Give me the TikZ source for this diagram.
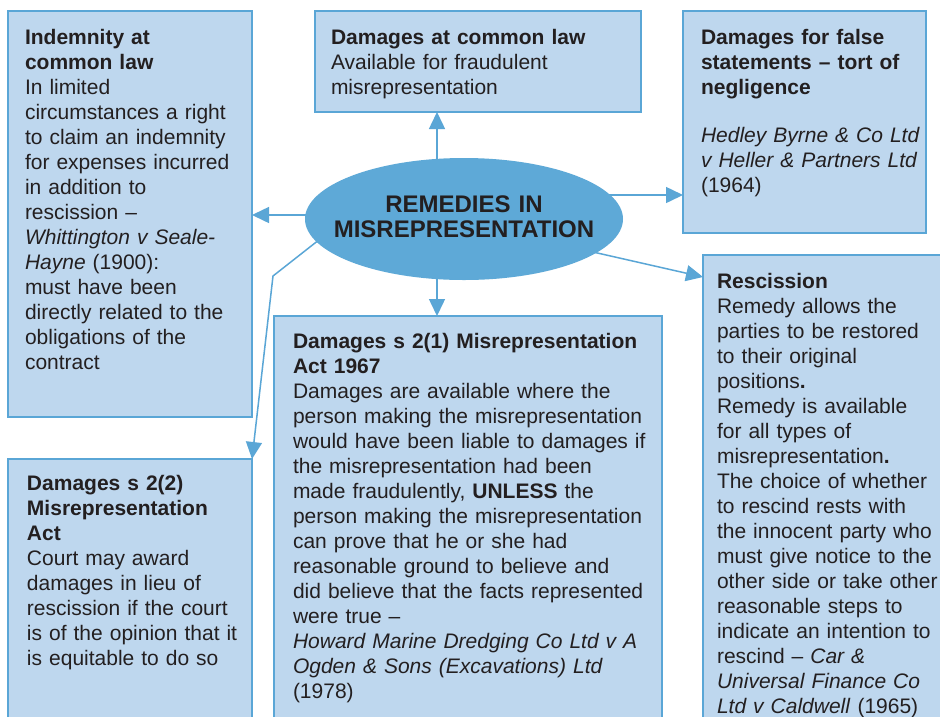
\documentclass[tikz,border=0pt]{standalone}
\usepackage{fontspec}
\setmainfont{Liberation Sans}
\usetikzlibrary{arrows.meta,shapes.geometric,backgrounds}

\definecolor{boxfill}{RGB}{190,215,238}
\definecolor{lineblue}{RGB}{90,166,214}
\definecolor{ellfill}{RGB}{94,169,215}
\definecolor{inkdark}{RGB}{35,31,32}

\tikzset{
  panel/.style={draw=lineblue, fill=boxfill, line width=1.3pt, inner sep=0pt,
    outer sep=0pt, anchor=north west, rectangle},
  bodytext/.style={anchor=base west, inner sep=0pt, outer sep=0pt,
    text width=420pt, align=left, text=inkdark,
    font=\fontsize{21}{25}\selectfont},
  conn/.style={draw=lineblue, line width=1.5pt,
    -{Triangle[length=17pt,width=16pt]}},
}

\begin{document}
\begin{tikzpicture}[x=1pt,y=-1pt]
  \clip (0,0) rectangle (940,716);

  % panels
  \node[panel, minimum width=244pt, minimum height=406pt] (indem)   at (8,11) {};
  \node[panel, minimum width=326pt, minimum height=101pt] (common)  at (315,11) {};
  \node[panel, minimum width=243pt, minimum height=222pt] (tort)    at (683,11) {};
  \node[panel, minimum width=244pt, minimum height=475pt] (resc)    at (703,255) {};
  \node[panel, minimum width=388pt, minimum height=414pt] (sectone) at (274,316) {};
  \node[panel, minimum width=244pt, minimum height=275pt] (secttwo) at (8,459) {};

  % central ellipse
  \node[ellipse, fill=ellfill, draw=none, inner sep=0pt,
        minimum width=318pt, minimum height=122pt] (ell) at (464,219) {};
  \node[anchor=base, inner sep=0pt, text width=320pt, align=center, text=inkdark,
        font=\bfseries\fontsize{24}{25}\selectfont] (elltext) at (464,212)
        {REMEDIES IN\\MISREPRESENTATION};

  % white ground and connectors, kept behind the shapes
  \begin{pgfonlayer}{background}
    \fill[white] (0,0) rectangle (940,716);
    \draw[conn] (ell.center |- 0,215) -- (indem.east |- 0,215);
    \draw[conn] (437,219) -- (common.south -| 437,0);
    \draw[conn] (437,219) -- (sectone.north -| 437,0);
    \draw[conn] (ell.center |- 0,195) -- (tort.west |- 0,195);
    \draw[conn] (534,238.6) -- (resc.west |- 0,277);
    \draw[conn] (336,226.5) -- (273,276) -- (secttwo.north east);
  \end{pgfonlayer}

  % texts
  \node[bodytext] (indemtext) at (25,44) {\textbf{Indemnity at}\\
    \textbf{common law}\\
    In limited\\
    circumstances a right\\
    to claim an indemnity\\
    for expenses incurred\\
    in addition to\\
    rescission --\\
    \textit{Whittington v Seale-}\\
    \textit{Hayne} (1900):\\
    must have been\\
    directly related to the\\
    obligations of the\\
    contract};

  \node[bodytext] (commontext) at (331,44) {\textbf{Damages at common law}\\
    Available for fraudulent\\
    misrepresentation};

  \node[bodytext] (torttext) at (701,44) {\textbf{Damages for false}\\
    \textbf{statements -- tort of}\\
    \textbf{negligence}\\[23pt]
    \textit{Hedley Byrne \& Co Ltd}\\
    \textit{v Heller \& Partners Ltd}\\
    (1964)};

  \node[bodytext] (resctext) at (717,288) {\textbf{Rescission}\\
    Remedy allows the\\
    parties to be restored\\
    to their original\\
    positions\textbf{.}\\
    Remedy is available\\
    for all types of\\
    misrepresentation\textbf{.}\\
    The choice of whether\\
    to rescind rests with\\
    the innocent party who\\
    must give notice to the\\
    other side or take other\\
    reasonable steps to\\
    indicate an intention to\\
    rescind -- \textit{Car \&}\\
    \textit{Universal Finance Co}\\
    \textit{Ltd v Caldwell} (1965)};

  \node[bodytext] (sectonetext) at (293,348) {\textbf{Damages s 2(1) Misrepresentation}\\
    \textbf{Act 1967}\\
    Damages are available where the\\
    person making the misrepresentation\\
    would have been liable to damages if\\
    the misrepresentation had been\\
    made fraudulently, \textbf{UNLESS} the\\
    person making the misrepresentation\\
    can prove that he or she had\\
    reasonable ground to believe and\\
    did believe that the facts represented\\
    were true --\\
    \textit{Howard Marine Dredging Co Ltd v A}\\
    \textit{Ogden \& Sons (Excavations) Ltd}\\
    (1978)};

  \node[bodytext] (secttwotext) at (27,490) {\textbf{Damages s 2(2)}\\
    \textbf{Misrepresentation}\\
    \textbf{Act}\\
    Court may award\\
    damages in lieu of\\
    rescission if the court\\
    is of the opinion that it\\
    is equitable to do so};
\end{tikzpicture}
\end{document}
